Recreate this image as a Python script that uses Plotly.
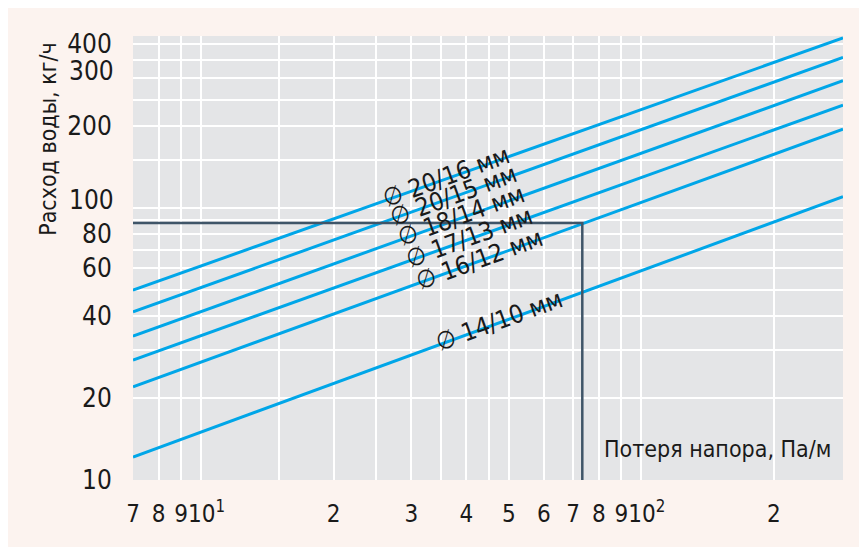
import plotly.graph_objects as go
import math

# ---- data ----
x_ends = [7, 287]  # Потеря напора, Па/м (left / right edge of the lines)
series_names = ["20/16 мм", "20/15 мм", "18/14 мм", "17/13 мм", "16/12 мм", "14/10 мм"]
q_left = [49.9, 41.5, 33.8, 27.6, 22.0, 12.15]   # кг/ч at x = 7
q_right = [422, 358, 294, 239, 195, 110]          # кг/ч at x = 287
label_x = [36.1, 37.4, 39.0, 40.6, 42.8, 47.6]    # where the labels sit along each line

ref_x = [7, 73.4, 73.4]
ref_y = [88, 88, 10]

x_tickvals = [7, 8, 9, 10, 20, 30, 40, 50, 60, 70, 80, 90, 100, 200]
x_ticktext = ["7", "8", "9", "\u200210<sup>1</sup>", "2", "3", "4", "5", "6", "7", "8", "9",
              "\u200210<sup>2</sup>", "2"]
x_minor = [15, 25, 35, 45]
y_tickvals = [10, 20, 40, 60, 80, 200, 400]
y_ticktext = ["10", "20", "40", "60", "80", "200", "400"]
y_minor = [30, 50, 70, 90, 100, 150, 250, 300, 350]
# labels that the reference lifts slightly above their grid line
y_lifted_vals = [100, 300]
y_lifted_text = ["100", "300"]

BLUE = "#00A6E8"
DARK = "#3F5568"
PINK = "#FCF3EF"
TXT = "#1a1a1a"
FONT = "DejaVu Sans Condensed, DejaVu Sans, sans-serif"

fig = go.Figure()
for i, name in enumerate(series_names):
    fig.add_trace(go.Scatter(x=x_ends, y=[q_left[i], q_right[i]], mode="lines",
                             line=dict(color=BLUE, width=3), name=name, hoverinfo="skip"))

fig.add_trace(go.Scatter(x=ref_x, y=ref_y, mode="lines",
                         line=dict(color=DARK, width=2.5), hoverinfo="skip"))

def on_line(i, xv):
    lx0, lx1 = math.log10(x_ends[0]), math.log10(x_ends[1])
    ly0, ly1 = math.log10(q_left[i]), math.log10(q_right[i])
    t = (math.log10(xv) - lx0) / (lx1 - lx0)
    return 10 ** (ly0 + t * (ly1 - ly0))

for i, name in enumerate(series_names):
    fig.add_annotation(x=math.log10(label_x[i]), y=math.log10(on_line(i, label_x[i])),
                       xref="x", yref="y", text="∅ " + name, showarrow=False,
                       textangle=-20, yshift=2,
                       font=dict(family=FONT, size=25, color=TXT))

for v, t, s in zip(y_lifted_vals, y_lifted_text, [8, 7]):
    fig.add_annotation(x=0, y=math.log10(v), xref="paper", yref="y", text=t, showarrow=False,
                       xanchor="right", yanchor="middle", xshift=-17, yshift=s,
                       font=dict(family=FONT, size=26, color=TXT))

fig.add_annotation(x=0.986, y=0.07, xref="paper", yref="paper", xanchor="right", yanchor="middle",
                   text="Потеря напора, Па/м", showarrow=False,
                   font=dict(family=FONT, size=23, color=TXT))
fig.add_annotation(x=-0.12, y=0.768, xref="paper", yref="paper", xanchor="center", yanchor="middle",
                   text="Расход воды, кг/ч", showarrow=False, textangle=-90,
                   font=dict(family=FONT, size=23, color=TXT))

grid = dict(showgrid=True, gridcolor="white", gridwidth=1.6)
fig.update_xaxes(type="log", range=[math.log10(7), math.log10(287)],
                 tickmode="array", tickvals=x_tickvals, ticktext=x_ticktext, tickangle=0, automargin=False,
                 zeroline=False, **grid,
                 minor=dict(tickmode="array", tickvals=x_minor, ticks="", **grid),
                 ticks="outside", ticklen=12, tickcolor="rgba(0,0,0,0)", showline=False,
                 tickfont=dict(family=FONT, size=24, color=TXT))
fig.update_yaxes(type="log", range=[1, math.log10(429)],
                 tickmode="array", tickvals=y_tickvals, ticktext=y_ticktext, automargin=False,
                 zeroline=False, **grid,
                 minor=dict(tickmode="array", tickvals=y_minor, ticks="", **grid),
                 ticks="outside", ticklen=15, tickcolor="rgba(0,0,0,0)", showline=False,
                 tickfont=dict(family=FONT, size=26, color=TXT))

fig.update_layout(width=867, height=547, showlegend=False,
                  margin=dict(l=125, r=32, t=28, b=75),
                  paper_bgcolor=PINK, plot_bgcolor="#E4E5E7")

fig.write_html("out.html")
